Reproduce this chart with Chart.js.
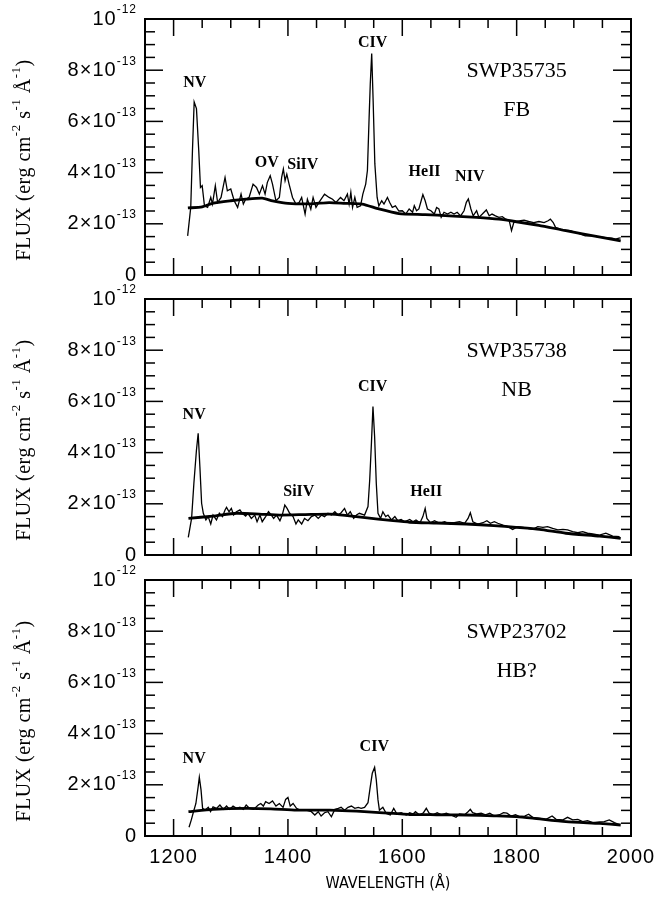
<!DOCTYPE html>
<html lang="en">
<head>
<meta charset="UTF-8">
<title>IUE SWP spectra</title>
<script src="https://cdn.jsdelivr.net/npm/chart.js"></script>
<style>
  body { margin: 0; background: #fff; }
  #wrap { position: relative; width: 658px; height: 899px; }
  #wrap canvas { position: absolute; left: 0; top: 0; }
</style>
</head>
<body>
<div id="wrap">
  <canvas id="fb" width="658" height="899"></canvas>
  <canvas id="nb" width="658" height="899"></canvas>
  <canvas id="hb" width="658" height="899"></canvas>
</div>
<script>
// flux values are in units of 1e-13 erg cm^-2 s^-1 A^-1

// SWP35735 (FB)
const waveFB = [1224.6, 1230, 1233, 1236, 1240, 1244, 1247, 1250, 1254, 1259.5, 1265, 1268, 1273, 1277, 1283, 1290, 1294, 1300, 1306, 1312, 1318, 1322, 1326, 1332, 1339, 1345, 1350, 1355.5, 1360, 1364, 1369, 1373, 1379, 1385, 1389, 1392, 1395, 1398, 1402, 1408, 1414, 1419.5, 1424, 1430, 1434, 1440, 1444, 1449, 1454, 1464, 1472, 1478, 1484, 1492, 1498, 1504, 1507, 1510, 1513, 1517, 1521, 1527, 1531, 1536, 1539, 1542, 1544, 1546.5, 1549, 1552, 1556, 1559, 1564, 1568, 1574, 1578, 1582.5, 1588, 1594, 1600, 1606, 1612, 1618, 1621, 1625, 1629, 1633, 1636, 1640, 1644, 1650, 1656, 1660, 1664, 1668, 1673, 1679, 1685, 1690.5, 1696, 1702, 1708, 1712, 1715.5, 1720, 1724, 1730, 1734, 1740, 1747, 1752, 1757, 1763, 1769, 1775, 1781, 1787, 1791, 1795, 1801, 1807, 1813, 1821, 1830, 1839, 1848, 1855, 1859, 1864, 1868, 1877, 1886, 1894, 1903, 1912, 1920, 1932, 1944, 1955, 1967, 1973, 1979, 1982];
const fluxFB = [1.53, 2.64, 4.86, 6.76, 6.5, 4.86, 3.42, 3.49, 2.7, 2.64, 3.03, 2.77, 3.49, 2.83, 3.03, 3.81, 3.29, 3.36, 2.9, 2.64, 3.16, 2.77, 2.96, 3.03, 3.55, 3.42, 3.16, 3.49, 3.16, 3.62, 3.88, 3.55, 2.9, 3.03, 3.81, 4.14, 3.68, 3.94, 3.55, 3.03, 2.77, 2.83, 3.03, 2.38, 2.96, 2.57, 3.03, 2.64, 2.83, 3.16, 3.03, 2.96, 2.83, 3.03, 2.9, 3.16, 2.77, 3.23, 2.64, 3.03, 2.64, 2.7, 3.16, 3.55, 4.08, 6.17, 7.47, 8.65, 6.82, 4.34, 3.03, 2.7, 2.9, 2.77, 3.03, 2.83, 2.64, 2.7, 2.5, 2.51, 2.38, 2.58, 2.45, 2.71, 2.51, 2.58, 2.9, 3.14, 2.9, 2.58, 2.51, 2.38, 2.64, 2.58, 2.25, 2.45, 2.38, 2.45, 2.38, 2.45, 2.31, 2.51, 2.84, 2.97, 2.58, 2.31, 2.51, 2.25, 2.38, 2.54, 2.31, 2.38, 2.31, 2.25, 2.28, 2.18, 2.12, 1.73, 2.05, 2.09, 2.12, 2.14, 2.09, 2.05, 2.09, 2.05, 2.12, 2.18, 2.05, 1.86, 1.79, 1.75, 1.73, 1.66, 1.6, 1.53, 1.53, 1.49, 1.46, 1.44, 1.4, 1.44, 1.45];
const contWaveFB = [1225, 1250, 1268, 1300, 1326, 1355, 1373, 1400, 1440, 1472, 1500, 1530, 1559, 1594, 1640, 1682, 1730, 1769, 1800, 1839, 1886, 1944, 1982];
const contFluxFB = [2.62, 2.66, 2.8, 2.9, 2.96, 3.0, 2.9, 2.8, 2.78, 2.83, 2.8, 2.77, 2.58, 2.4, 2.36, 2.31, 2.25, 2.18, 2.08, 1.94, 1.73, 1.49, 1.33];

// SWP35738 (NB)
const waveNB = [1225.7, 1231.5, 1235.5, 1240, 1243, 1246, 1249, 1252, 1256.5, 1260.5, 1265, 1269, 1275, 1280, 1285.6, 1290, 1292.6, 1297, 1301, 1305, 1310, 1316, 1320, 1326, 1330, 1336, 1342, 1346, 1351, 1355, 1361, 1366, 1371, 1375, 1380, 1386, 1390, 1394.5, 1398.5, 1403, 1409, 1414, 1418, 1424, 1429, 1435, 1441, 1447, 1453, 1459, 1464, 1470, 1476, 1482, 1487.6, 1493, 1499, 1504, 1509, 1515, 1520, 1525, 1534, 1540, 1543, 1546, 1548.7, 1551.6, 1554.5, 1557.5, 1562, 1566, 1571, 1575, 1581, 1587, 1592, 1598, 1604, 1613, 1618.6, 1624, 1631, 1636, 1640, 1643, 1649, 1656.4, 1665, 1674, 1683, 1691, 1700, 1709, 1715, 1719, 1723.4, 1732, 1741, 1748, 1754, 1761, 1767, 1776, 1784.5, 1793, 1802, 1811, 1819.4, 1828, 1837, 1846, 1854, 1863, 1872, 1881, 1889, 1898, 1907, 1915.5, 1924, 1933, 1945, 1956, 1968, 1980];
const fluxNB = [0.69, 1.43, 2.8, 4.1, 4.75, 3.45, 2.02, 1.63, 1.37, 1.5, 1.21, 1.56, 1.37, 1.63, 1.5, 1.76, 1.86, 1.69, 1.82, 1.56, 1.69, 1.76, 1.63, 1.52, 1.63, 1.43, 1.56, 1.3, 1.56, 1.3, 1.5, 1.69, 1.56, 1.43, 1.56, 1.34, 1.56, 1.95, 1.82, 1.63, 1.5, 1.21, 1.37, 1.21, 1.43, 1.34, 1.5, 1.56, 1.43, 1.56, 1.5, 1.63, 1.56, 1.69, 1.56, 1.65, 1.82, 1.56, 1.69, 1.43, 1.56, 1.63, 1.56, 1.89, 2.93, 4.36, 5.8, 4.62, 2.8, 1.63, 1.43, 1.69, 1.5, 1.56, 1.37, 1.5, 1.34, 1.39, 1.3, 1.39, 1.3, 1.37, 1.26, 1.5, 1.82, 1.43, 1.26, 1.34, 1.24, 1.3, 1.21, 1.26, 1.3, 1.24, 1.43, 1.65, 1.3, 1.21, 1.26, 1.34, 1.24, 1.3, 1.24, 1.17, 1.11, 1.0, 1.11, 1.08, 1.04, 1.0, 1.11, 1.08, 1.11, 1.04, 0.98, 1.0, 0.98, 0.91, 0.87, 0.91, 0.85, 0.82, 0.78, 0.85, 0.74, 0.72];
const contWaveNB = [1226, 1269, 1310, 1350, 1386, 1430, 1473, 1500, 1531, 1584, 1613, 1660, 1712, 1760, 1799, 1840, 1886, 1945, 1982];
const contFluxNB = [1.43, 1.52, 1.63, 1.6, 1.56, 1.58, 1.6, 1.55, 1.47, 1.34, 1.28, 1.25, 1.21, 1.15, 1.08, 1.0, 0.85, 0.74, 0.65];

// SWP23702 (HB?)
const waveHB = [1227, 1231, 1234, 1239, 1243, 1245, 1248, 1250.7, 1255, 1260.6, 1264.7, 1269, 1275, 1281, 1287, 1292.6, 1298, 1304, 1310, 1316, 1322, 1327, 1333, 1340, 1348, 1352.5, 1357, 1361, 1367, 1373, 1379, 1385, 1391.5, 1396, 1400, 1404, 1409, 1415, 1421, 1432, 1441, 1447, 1453, 1458, 1464, 1470, 1476, 1482, 1488, 1493, 1499, 1505, 1511, 1517, 1523, 1528, 1534, 1540, 1544, 1547.5, 1551.6, 1554.5, 1557.5, 1560, 1566, 1572, 1579, 1585, 1590.6, 1598, 1607, 1613, 1619, 1623, 1630, 1637, 1642, 1647, 1654, 1661, 1668, 1677, 1686, 1694, 1700, 1709, 1715, 1719, 1723, 1730, 1738, 1745.5, 1753, 1761, 1770, 1777, 1783, 1790.3, 1798, 1805, 1814, 1821, 1828, 1840, 1851.4, 1862, 1869, 1881, 1889, 1898, 1907, 1915.5, 1924, 1933, 1945, 1953.3, 1962, 1971, 1981];
const fluxHB = [0.34, 0.63, 0.88, 1.27, 1.93, 2.29, 1.8, 1.08, 1.01, 1.12, 0.95, 1.14, 1.08, 1.21, 1.04, 1.17, 1.04, 1.17, 1.08, 1.12, 1.04, 1.21, 1.08, 1.04, 1.21, 1.27, 1.17, 1.34, 1.27, 1.37, 1.17, 1.27, 1.12, 1.43, 1.51, 1.17, 1.27, 1.08, 1.01, 1.01, 0.95, 0.82, 0.95, 0.78, 0.91, 0.95, 0.75, 1.04, 1.08, 1.12, 1.01, 1.12, 1.17, 1.08, 1.12, 1.08, 1.12, 1.3, 1.93, 2.45, 2.68, 2.19, 1.41, 1.01, 1.12, 0.88, 0.82, 1.08, 0.86, 0.91, 0.82, 0.91, 0.86, 0.95, 0.82, 0.91, 1.08, 0.89, 0.83, 0.91, 0.83, 0.89, 0.81, 0.73, 0.86, 0.83, 0.95, 1.04, 0.91, 0.86, 0.89, 0.83, 0.89, 0.78, 0.83, 0.91, 0.89, 0.78, 0.83, 0.76, 0.78, 0.85, 0.73, 0.69, 0.65, 0.78, 0.65, 0.63, 0.73, 0.63, 0.65, 0.56, 0.6, 0.52, 0.55, 0.56, 0.63, 0.52, 0.43];
const contWaveHB = [1226, 1269, 1327, 1370, 1415, 1473, 1520, 1560, 1613, 1660, 1712, 1760, 1799, 1828, 1886, 1945, 1982];
const contFluxHB = [0.95, 1.04, 1.08, 1.06, 1.01, 1.01, 0.97, 0.91, 0.84, 0.83, 0.82, 0.79, 0.76, 0.7, 0.56, 0.49, 0.43];

// line identifications (text, wavelength, flux)
const linesFB = ['NV', 'OV', 'SiIV', 'CIV', 'HeII', 'NIV'];
const lineWaveFB = [1237, 1363, 1426, 1548, 1639, 1718];
const lineFluxFB = [7.5, 4.38, 4.3, 9.06, 4.02, 3.83];
const linesNB = ['NV', 'SiIV', 'CIV', 'HeII'];
const lineWaveNB = [1236, 1419, 1548, 1642];
const lineFluxNB = [5.47, 2.46, 6.56, 2.46];
const linesHB = ['NV', 'CIV'];
const lineWaveHB = [1236, 1551];
const lineFluxHB = [3.0, 3.48];

const imageNames = ['SWP35735', 'SWP35738', 'SWP23702'];
const branchNames = ['FB', 'NB', 'HB?'];

// axes
const xMajorTicks = [1200, 1400, 1600, 1800, 2000];
const xTickLabels = ['1200', '1400', '1600', '1800', '2000'];
const yTickValues = [0, 2, 4, 6, 8, 10];
const yTickMantissa = ['0', '2×10', '4×10', '6×10', '8×10', '10'];
const yTickExponent = ['', '-13', '-13', '-13', '-13', '-12'];

const SANS = '"Liberation Sans", Arial, Helvetica, sans-serif';
const SERIF = '"Liberation Serif", "Times New Roman", serif';

function line(ctx, x1, y1, x2, y2) {
    ctx.beginPath();
    ctx.moveTo(x1, y1);
    ctx.lineTo(x2, y2);
    ctx.stroke();
}

// draw a run of [text, isSuperscript] pieces starting at x
function drawPieces(ctx, pieces, x, y, baseFont, supFont, raise) {
    ctx.textAlign = 'left';
    ctx.textBaseline = 'middle';
    for (const [t, sup] of pieces) {
        ctx.font = sup ? supFont : baseFont;
        ctx.fillText(t, x, sup ? y - raise : y);
        x += ctx.measureText(t).width;
    }
}
function piecesWidth(ctx, pieces, baseFont, supFont) {
    let w = 0;
    for (const [t, sup] of pieces) {
        ctx.font = sup ? supFont : baseFont;
        w += ctx.measureText(t).width;
    }
    return w;
}

function framePlugin(panel) {
    return {
        id: 'frame',
        afterDraw(chart) {
            const ctx = chart.ctx;
            const a = chart.chartArea;
            const xs = chart.scales.x, ys = chart.scales.y;
            ctx.save();
            ctx.strokeStyle = '#000';
            ctx.fillStyle = '#000';

            // inward ticks on all four sides
            ctx.lineWidth = 1.5;
            for (let v = 1200; v < 2000; v += 50) {
                const px = xs.getPixelForValue(v);
                const len = xMajorTicks.includes(v) ? 17 : 9;
                line(ctx, px, a.bottom, px, a.bottom - len);
                line(ctx, px, a.top, px, a.top + len);
            }
            for (let v = 0.5; v < 10; v += 0.5) {
                const py = ys.getPixelForValue(v);
                const len = yTickValues.includes(v) ? 18 : 10;
                line(ctx, a.left, py, a.left + len, py);
                line(ctx, a.right, py, a.right - len, py);
            }
            ctx.lineWidth = 2;
            ctx.strokeRect(a.left, a.top, a.right - a.left, a.bottom - a.top);

            // y tick labels with exponents
            ctx.letterSpacing = '1px';
            const base = '20px ' + SANS, sup = '12px ' + SANS;
            yTickValues.forEach((v, i) => {
                const pieces = [[yTickMantissa[i], false]];
                if (yTickExponent[i]) pieces.push([yTickExponent[i], true]);
                const w = piecesWidth(ctx, pieces, base, sup);
                drawPieces(ctx, pieces, a.left - 8 - w, ys.getPixelForValue(v), base, sup, 9);
            });

            // x tick labels only under the bottom panel
            if (panel.xLabels) {
                ctx.font = base;
                ctx.textAlign = 'center';
                ctx.textBaseline = 'middle';
                xMajorTicks.forEach((v, i) => {
                    ctx.fillText(xTickLabels[i], xs.getPixelForValue(v), a.bottom + 21);
                });
                ctx.letterSpacing = '0px';
                ctx.font = '16px "Liberation Sans Narrow", "DejaVu Sans Condensed", ' + SANS;
                ctx.fillText('WAVELENGTH (Å)', (a.left + a.right) / 2, a.bottom + 48);
            }

            // rotated y title
            ctx.letterSpacing = '0.5px';
            const tBase = '20px ' + SERIF, tSup = '13px ' + SERIF;
            const title = [['FLUX (erg cm', false], ['-2', true], [' s', false], ['-1', true], [' Å', false], ['-1', true], [')', false]];
            const tw = piecesWidth(ctx, title, tBase, tSup);
            ctx.save();
            ctx.translate(25, (a.top + a.bottom) / 2 + 13);
            ctx.rotate(-Math.PI / 2);
            drawPieces(ctx, title, -tw / 2, 0, tBase, tSup, 8);
            ctx.restore();
            ctx.letterSpacing = '0px';

            // line identifications
            ctx.textAlign = 'center';
            ctx.textBaseline = 'middle';
            ctx.font = 'bold 16px ' + SERIF;
            panel.lines.forEach((t, i) => {
                ctx.fillText(t, xs.getPixelForValue(panel.lineWave[i]), ys.getPixelForValue(panel.lineFlux[i]));
            });
            ctx.font = '22px ' + SERIF;
            ctx.fillText(panel.image, xs.getPixelForValue(1800), ys.getPixelForValue(7.95));
            ctx.fillText(panel.branch, xs.getPixelForValue(1800), ys.getPixelForValue(6.45));
            ctx.restore();
        }
    };
}

const panels = [
    { id: 'fb', top: 19, bottom: 275, wave: waveFB, flux: fluxFB, cw: contWaveFB, cf: contFluxFB,
      lines: linesFB, lineWave: lineWaveFB, lineFlux: lineFluxFB, image: imageNames[0], branch: branchNames[0], xLabels: false },
    { id: 'nb', top: 299, bottom: 555, wave: waveNB, flux: fluxNB, cw: contWaveNB, cf: contFluxNB,
      lines: linesNB, lineWave: lineWaveNB, lineFlux: lineFluxNB, image: imageNames[1], branch: branchNames[1], xLabels: false },
    { id: 'hb', top: 580, bottom: 836, wave: waveHB, flux: fluxHB, cw: contWaveHB, cf: contFluxHB,
      lines: linesHB, lineWave: lineWaveHB, lineFlux: lineFluxHB, image: imageNames[2], branch: branchNames[2], xLabels: true }
];

panels.forEach(p => {
    new Chart(document.getElementById(p.id), {
        type: 'line',
        data: {
            datasets: [
                {
                    data: p.wave.map((w, i) => ({ x: w, y: p.flux[i] })),
                    borderColor: '#000', borderWidth: 1.3, pointRadius: 0, tension: 0
                },
                {
                    data: p.cw.map((w, i) => ({ x: w, y: p.cf[i] })),
                    borderColor: '#000', borderWidth: 2.8, pointRadius: 0, tension: 0.2
                }
            ]
        },
        options: {
            responsive: false,
            animation: false,
            events: [],
            layout: { padding: { left: 145, right: 658 - 631, top: p.top, bottom: 899 - p.bottom } },
            scales: {
                x: { type: 'linear', min: 1150, max: 2000, display: false },
                y: { type: 'linear', min: 0, max: 10, display: false }
            },
            plugins: { legend: { display: false }, tooltip: { enabled: false } }
        },
        plugins: [framePlugin(p)]
    });
});
</script>
</body>
</html>
